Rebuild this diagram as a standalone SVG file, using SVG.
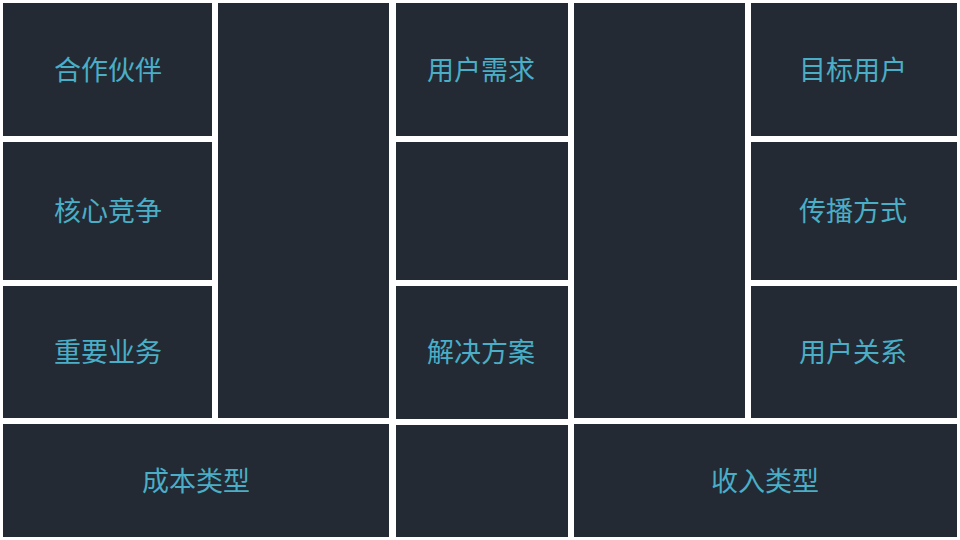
<svg xmlns="http://www.w3.org/2000/svg" width="960" height="540" viewBox="0 0 960 540">
<style>
.b{fill:#232a33}
.t{fill:#4aaec7;font-family:"Noto Sans CJK SC","Noto Sans",sans-serif;font-size:27px;text-anchor:middle;dominant-baseline:central}
</style>
<rect width="960" height="540" fill="#ffffff"/>
<g id="partners"><rect class="b" x="3" y="3" width="209" height="133"/><text class="t" x="108" y="68">合作伙伴</text></g>
<g id="core"><rect class="b" x="3" y="142" width="209" height="138"/><text class="t" x="108" y="209">核心竞争</text></g>
<g id="activities"><rect class="b" x="3" y="286" width="209" height="132"/><text class="t" x="108" y="350">重要业务</text></g>
<g id="col2"><rect class="b" x="218" y="3" width="171" height="415"/></g>
<g id="needs"><rect class="b" x="396" y="3" width="172" height="133"/><text class="t" x="481" y="68">用户需求</text></g>
<g id="mid"><rect class="b" x="396" y="142" width="172" height="138"/></g>
<g id="solution"><rect class="b" x="396" y="286" width="172" height="133"/><text class="t" x="481" y="350">解决方案</text></g>
<g id="col4"><rect class="b" x="574" y="3" width="171" height="415"/></g>
<g id="target"><rect class="b" x="751" y="3" width="206" height="133"/><text class="t" x="853" y="68">目标用户</text></g>
<g id="channels"><rect class="b" x="751" y="142" width="206" height="138"/><text class="t" x="853" y="209">传播方式</text></g>
<g id="relations"><rect class="b" x="751" y="286" width="206" height="132"/><text class="t" x="853" y="350">用户关系</text></g>
<g id="cost"><rect class="b" x="3" y="424" width="386" height="113"/><text class="t" x="196" y="479">成本类型</text></g>
<g id="bottommid"><rect class="b" x="396" y="425" width="172" height="112"/></g>
<g id="revenue"><rect class="b" x="574" y="424" width="383" height="113"/><text class="t" x="765" y="479">收入类型</text></g>
<g id="connectors"></g>
</svg>
